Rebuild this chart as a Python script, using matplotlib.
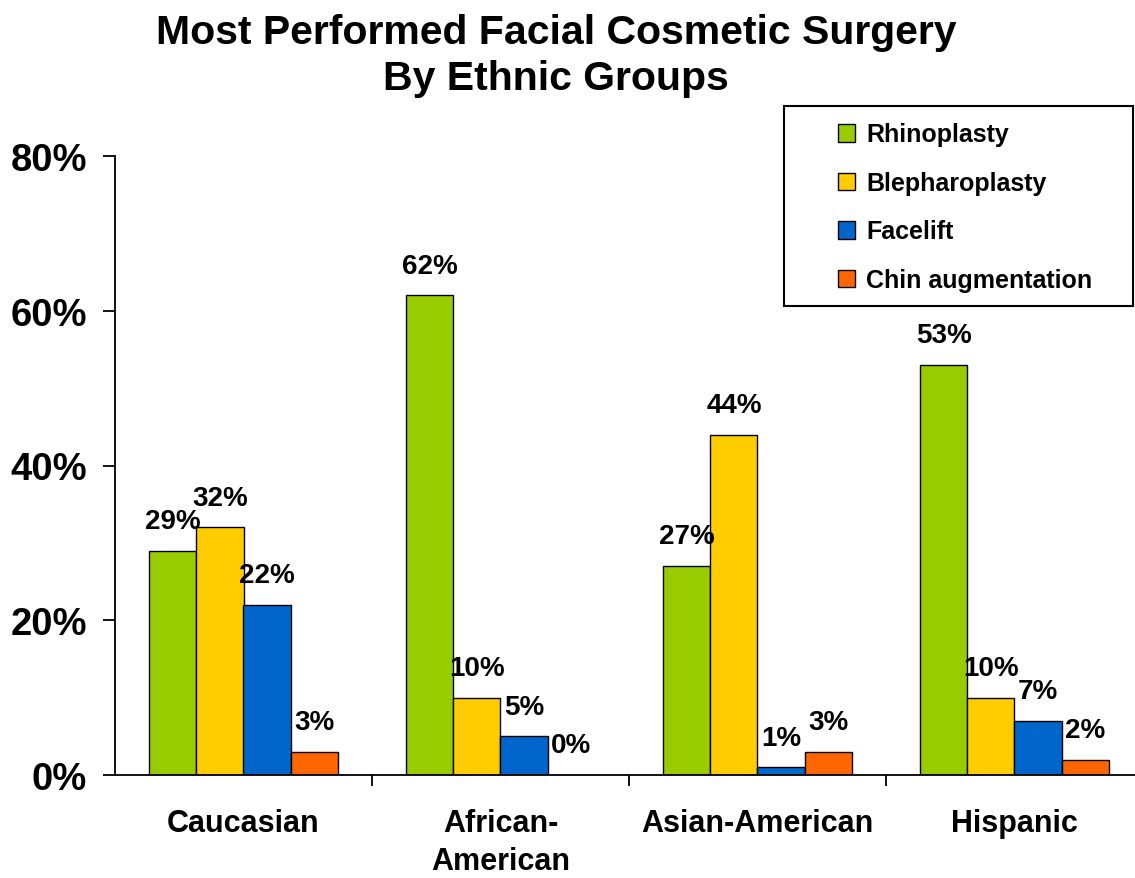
import matplotlib
matplotlib.use("Agg")
import matplotlib.pyplot as plt
from matplotlib.patches import Rectangle
import numpy as np

plt.rcParams['font.family'] = ['Liberation Sans', 'DejaVu Sans']
plt.rcParams['font.weight'] = 'bold'

# data
groups = ['Caucasian', 'African-\nAmerican', 'Asian-American', 'Hispanic']
procedures = ['Rhinoplasty', 'Blepharoplasty', 'Facelift', 'Chin augmentation']
rhinoplasty = [29, 62, 27, 53]
blepharoplasty = [32, 10, 44, 10]
facelift = [22, 5, 1, 7]
chin = [3, 0, 3, 2]
colors = ['#99CC00', '#FFCC00', '#0066CC', '#FF6600']

series = [rhinoplasty, blepharoplasty, facelift, chin]

fig = plt.figure(figsize=(11.35, 8.79), dpi=100)
ax = fig.add_axes([115 / 1135, 103 / 879, 1028 / 1135, 619 / 879])

x = np.arange(len(groups))
w = 0.183
for i, (vals, col, name) in enumerate(zip(series, colors, procedures)):
    pos = x + (i - 1.5) * w
    ax.bar(pos, vals, width=w, color=col, edgecolor='black', linewidth=1.0, label=name)
    for p, v in zip(pos, vals):
        ax.annotate(f'{v}%', (p, v), xytext=(0, 12), textcoords='offset points',
                    ha='center', va='bottom', fontsize=20, fontweight='bold')

ax.set_xlim(-0.5, 3.5)
ax.set_ylim(0, 80)
ax.set_yticks([0, 20, 40, 60, 80])
ax.set_yticklabels(['0%', '20%', '40%', '60%', '80%'], fontsize=27.5, fontweight='bold')
ax.tick_params(axis='y', direction='out', length=9, width=1.3, pad=11)

ax.set_xticks(x)
ax.set_xticklabels(groups, fontsize=22, fontweight='bold', linespacing=1.35)
ax.tick_params(axis='x', which='major', length=0, pad=24)
ax.set_xticks([0.5, 1.5, 2.5], minor=True)
ax.tick_params(axis='x', which='minor', direction='out', length=8, width=1.3)

for s in ['top', 'right']:
    ax.spines[s].set_visible(False)
for s in ['left', 'bottom']:
    ax.spines[s].set_linewidth(1.3)

fig.text(556 / 1135, 1 - 56 / 879,
         'Most Performed Facial Cosmetic Surgery\nBy Ethnic Groups',
         ha='center', va='center', fontsize=29.5, fontweight='bold', linespacing=1.3)

# legend box
fig.patches.append(Rectangle((784 / 1135, 1 - 307 / 879), 349 / 1135, 200 / 879,
                             transform=fig.transFigure, fill=True, facecolor='white',
                             edgecolor='black', linewidth=1.5, zorder=5))
leg = fig.legend(loc='upper left', bbox_to_anchor=(820 / 1135, 1 - 106 / 879),
                 frameon=False, prop={'weight': 'bold', 'size': 18},
                 handlelength=0.7, handleheight=0.7, handletextpad=0.45,
                 labelspacing=0.98, borderpad=0.2)
leg.set_zorder(6)

fig.savefig('out.png', dpi=100)
